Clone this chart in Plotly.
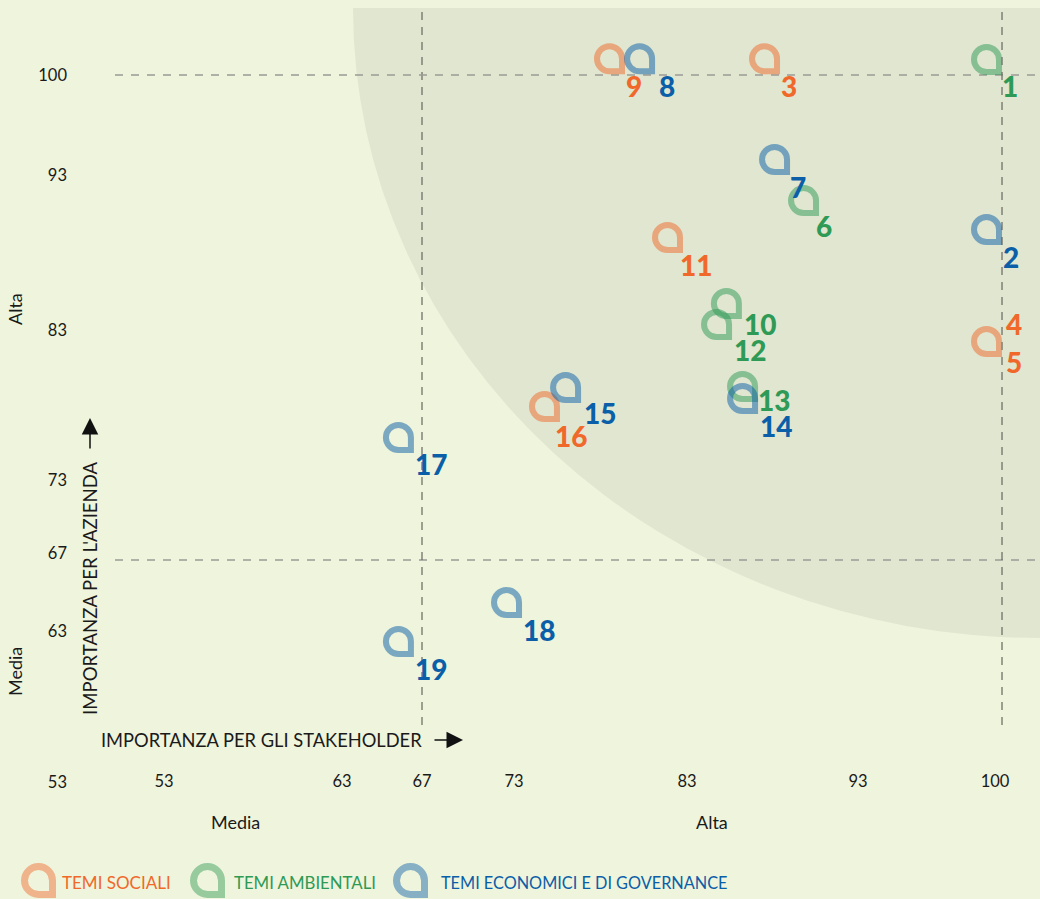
import plotly.graph_objects as go

# ---- data ----
SOCIAL_IDS = ["3", "4", "5", "9", "11", "16"]
SOCIAL_X = [87.37, 100.0, 100.0, 78.55, 81.85, 74.85]
SOCIAL_Y = [100.05, 80.81, 80.81, 100.05, 87.89, 76.39]
ENV_IDS = ["1", "6", "10", "12", "13"]
ENV_X = [100.0, 89.59, 85.2, 84.64, 86.12]
ENV_Y = [100.0, 90.4, 83.4, 81.97, 77.75]
GOV_IDS = ["2", "7", "8", "14", "15", "17", "18", "19"]
GOV_X = [100.0, 87.94, 80.26, 86.12, 76.05, 66.54, 72.69, 66.54]
GOV_Y = [88.43, 93.2, 100.05, 76.93, 77.68, 74.28, 63.05, 60.4]

X_TICK_LABELS = ["53", "63", "67", "73", "83", "93", "100"]
Y_TICK_LABELS = ["100", "93", "83", "73", "67", "63", "53"]
THRESHOLD_LOW = 67
THRESHOLD_HIGH = 100

# ---- styling / layout ----
W, H = 1040, 899
ML, MR, MT, MB = 68, 0, 8, 104
PW, PH = W - ML - MR, H - MT - MB
BG = "#eff4dc"
SHADE = "#e0e6d0"
ORANGE, GREEN, BLUE = "#f0682a", "#2e9a55", "#0a5fa8"
FONT = "Lato"

XS = 17.576   # px per x unit
YS = 14.697   # px per y unit
X_PX67, Y_PX100 = 422, 75
XR = [67 + (ML - X_PX67) / XS, 67 + (W - X_PX67) / XS]
YR = [100 - (H - MB - Y_PX100) / YS, 100 - (MT - Y_PX100) / YS]


def dx(px):
    return 67 + (px - X_PX67) / XS


def dy(py):
    return 100 - (py - Y_PX100) / YS


def px_paper(px):
    return (px - ML) / PW


def py_paper(py):
    return (H - MB - py) / PH


X_TICK_PX = [164, 342, 422, 514, 687, 858, 995]
Y_TICK_PX = [75, 175, 330, 480, 553, 631, 782]

LABEL_OFFSETS = {
    "1": (8, 11), "2": (9, 12), "3": (9, 12), "4": (12, -33), "5": (12, 5),
    "6": (5, 10), "7": (8, 12), "8": (12, 12), "9": (9, 12), "10": (18, 5),
    "11": (13, 12), "12": (18, 10), "13": (16, -2), "14": (18, 12),
    "15": (19, 10), "16": (11, 14), "17": (17, 11), "18": (17, 12), "19": (17, 12),
}


def pin_path(outer, stroke):
    """Teardrop ring with its square corner at the anchor (pixel mode, y up)."""
    r = outer - stroke / 2
    c = outer
    k = 0.5523 * r
    e = stroke / 2
    p = lambda a, b: f"{-a:.2f},{b:.2f}"
    return (
        f"M {p(e, e)} L {p(e, c)} "
        f"C {p(e, c + k)} {p(c - k, c + r)} {p(c, c + r)} "
        f"C {p(c + k, c + r)} {p(c + r, c + k)} {p(c + r, c)} "
        f"C {p(c + r, c - k)} {p(c + k, e)} {p(c, e)} Z"
    )


PIN = pin_path(15.5, 6)
PIN_LEGEND = pin_path(17.5, 7)

shapes = [
    dict(type="circle", xref="x", yref="y", layer="below",
         x0=dx(W - 687), x1=dx(W + 687), y0=dy(MT - 630), y1=dy(MT + 630),
         fillcolor=SHADE, line=dict(width=0)),
]
h_dash = dict(color="#9a9a94", width=1.4, dash="8px,8px")
v_dash = dict(color="#66675f", width=1.2, dash="8px,7px")
for v in (THRESHOLD_LOW, THRESHOLD_HIGH):
    shapes.append(dict(type="line", xref="x", yref="y", layer="below",
                       x0=dx(115), x1=XR[1], y0=v, y1=v, line=h_dash))
    shapes.append(dict(type="line", xref="x", yref="y", layer="below",
                       x0=v, x1=v, y0=dy(725), y1=YR[1], line=v_dash))

series = [
    ("TEMI SOCIALI", SOCIAL_IDS, SOCIAL_X, SOCIAL_Y, ORANGE),
    ("TEMI AMBIENTALI", ENV_IDS, ENV_X, ENV_Y, GREEN),
    ("TEMI ECONOMICI E DI GOVERNANCE", GOV_IDS, GOV_X, GOV_Y, BLUE),
]

fig = go.Figure()
annotations = []
for name, ids, xs, ys, col in series:
    fig.add_trace(go.Scatter(x=xs, y=ys, mode="markers", name=name, text=ids,
                             marker=dict(size=16, color=col, opacity=0), showlegend=False))
    drawn = set()
    for i, x, y in zip(ids, xs, ys):
        if (x, y) not in drawn:
            drawn.add((x, y))
            shapes.append(dict(type="path", xref="x", yref="y", xsizemode="pixel",
                               ysizemode="pixel", xanchor=x, yanchor=y, path=PIN,
                               line=dict(color=col, width=6), opacity=0.5, layer="above"))
        ox, oy = LABEL_OFFSETS[i]
        annotations.append(dict(x=x, y=y, xref="x", yref="y", text=i, showarrow=False,
                                xshift=ox, yshift=-oy,
                                font=dict(family=FONT, size=28, color=col, weight=900)))

# legend (drawn by hand, pins run off the bottom edge)
legend_items = [(series[0], 56, 62, 17), (series[1], 225, 234, 16.8), (series[2], 428, 441, 16.3)]
for (name, _, _, _, col), tip, tx, sz in legend_items:
    shapes.append(dict(type="path", xref="paper", yref="paper", xsizemode="pixel",
                       ysizemode="pixel", xanchor=px_paper(tip), yanchor=py_paper(898), path=PIN_LEGEND,
                       line=dict(color=col, width=7), opacity=0.45, layer="above"))
    annotations.append(dict(x=px_paper(tx), y=py_paper(882), xref="paper", yref="paper", text=name,
                            showarrow=False, xanchor="left", yanchor="middle", xshift=-2,
                            font=dict(family=FONT, size=sz, color=col)))


def note(text, px, py, angle=0, size=18, anchor="center"):
    annotations.append(dict(x=px_paper(px), y=py_paper(py), xref="paper", yref="paper", text=text,
                            showarrow=False, textangle=angle, xanchor=anchor, yanchor="middle",
                            font=dict(family=FONT, size=size, color="#1a1a1a")))


note("Alta", 15, 309, -90)
note("Media", 15, 672, -90)
note("Media", 235, 822)
note("Alta", 712, 822)
note("IMPORTANZA PER L'AZIENDA", 90, 588, -90, 18.6)
note("IMPORTANZA PER GLI STAKEHOLDER", 261, 740, 0, 18.3)

for tx, ty, ax, ay in [(90, 418, 0, 32), (463, 740, -30, 0)]:
    annotations.append(dict(x=px_paper(tx), y=py_paper(ty), xref="paper", yref="paper", text="",
                            showarrow=True, axref="pixel", ayref="pixel", ax=ax, ay=ay,
                            arrowhead=2, arrowsize=2.2, arrowwidth=1.5, arrowcolor="#111111"))

tick_font = dict(size=16.5, color="#1a1a1a")
fig.update_layout(
    width=W, height=H, autosize=False,
    margin=dict(l=ML, r=MR, t=MT, b=MB, pad=0),
    paper_bgcolor=BG, plot_bgcolor=BG,
    font=dict(family=FONT, size=17, color="#1a1a1a"),
    shapes=shapes, annotations=annotations, showlegend=False,
    xaxis=dict(range=XR, showgrid=False, zeroline=False, showline=False, ticks="",
               tickmode="array", tickvals=[dx(p) for p in X_TICK_PX], ticktext=X_TICK_LABELS,
               ticklabelposition="outside", ticklabelstandoff=-26, tickfont=tick_font),
    yaxis=dict(range=YR, showgrid=False, zeroline=False, showline=False, ticks="",
               tickmode="array", tickvals=[dy(p) for p in Y_TICK_PX], ticktext=Y_TICK_LABELS,
               ticklabelposition="outside", tickfont=tick_font),
)

fig.write_html("out.html", config=dict(displayModeBar=False),
               post_script="document.body.style.margin='0';document.body.style.overflow='hidden';document.body.style.background='" + BG + "';")
